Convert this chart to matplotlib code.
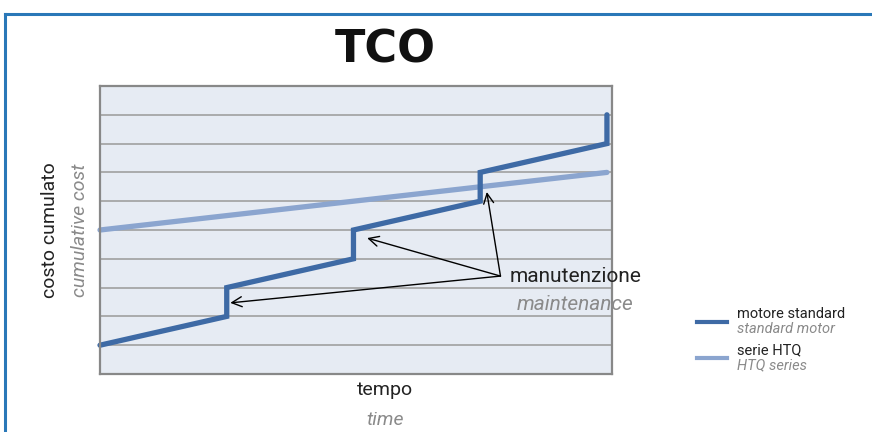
import numpy as np
import matplotlib
matplotlib.use("Agg")
import matplotlib.pyplot as plt
from matplotlib.lines import Line2D

plt.rcParams['font.family'] = ['Roboto', 'DejaVu Sans']

# data (time, cumulative cost)
std_x = [0, 2.5, 2.5, 5.0, 5.0, 7.5, 7.5, 10.0, 10.0]
std_y = [1.0, 2.0, 3.0, 4.0, 5.0, 6.0, 7.0, 8.0, 9.0]
htq_x = [0, 10.0]
htq_y = [5.0, 7.0]

# maintenance arrows: tips
tips_x = [2.57, 5.27, 7.63]
tips_y = [2.47, 4.72, 6.32]
src = (7.9, 3.4)

c_std = '#3e6aa5'
c_htq = '#8ba5cf'

fig = plt.figure(figsize=(8.72, 4.32), dpi=100)

# outer blue frame
fig.add_artist(Line2D([0.006, 1.0], [0.968, 0.968], color='#2a78b8', lw=2.2))
fig.add_artist(Line2D([0.006, 0.006], [0.0, 0.968], color='#2a78b8', lw=2.2))

ax = fig.add_axes([100/872, 58/432, 512/872, 288/432])
ax.set_facecolor('#e6ebf3')
ax.set_xlim(0, 10.1)
ax.set_ylim(0, 10)
ax.set_yticks(np.arange(1, 10))
ax.set_xticks([])
ax.tick_params(axis='y', length=0, labelleft=False)
ax.grid(axis='y', color='#a0a0a0', lw=1.2)
ax.set_axisbelow(True)
for s in ax.spines.values():
    s.set_color('#888888')
    s.set_linewidth(1.6)

ax.plot(htq_x, htq_y, color=c_htq, lw=3.8, solid_capstyle='round', clip_on=False)
ax.plot(std_x, std_y, color=c_std, lw=3.8, solid_capstyle='round',
        solid_joinstyle='miter', clip_on=False)

for tx, ty in zip(tips_x, tips_y):
    ax.annotate('', xy=(tx, ty), xytext=src,
                arrowprops=dict(arrowstyle='->', color='black', lw=1.0,
                                mutation_scale=18, shrinkA=0, shrinkB=0))

ax.text(9.38, 3.4, 'manutenzione', fontsize=15, color='#222222', va='center', ha='center')
ax.text(9.38, 2.4, 'maintenance', fontsize=15, color='#8a8a8a', style='italic',
        va='center', ha='center')

fig.text(385/872, 1 - 50/432, 'TCO', fontsize=32, fontweight='bold',
         ha='center', va='center', color='#111111',
         family=['DejaVu Sans Condensed', 'Liberation Sans Narrow', 'DejaVu Sans'])

fig.text(50/872, 1 - 230/432, 'costo cumulato', rotation=90, fontsize=14,
         ha='center', va='center', color='#222222')
fig.text(80/872, 1 - 230/432, 'cumulative cost', rotation=90, fontsize=14,
         ha='center', va='center', color='#8a8a8a', style='italic')
fig.text(385/872, 1 - 390/432, 'tempo', fontsize=14, ha='center', va='center',
         color='#222222')
fig.text(385/872, 1 - 420/432, 'time', fontsize=14, ha='center', va='center',
         color='#8a8a8a', style='italic')

# legend
legend = [('motore standard', 'standard motor', c_std, 322),
          ('serie HTQ', 'HTQ series', c_htq, 358)]
for it, en, col, yp in legend:
    fig.add_artist(Line2D([697/872, 727/872], [1 - yp/432, 1 - yp/432], color=col, lw=3))
    fig.text(737/872, 1 - (yp - 8)/432, it, fontsize=10.5, ha='left', va='center',
             color='#222222')
    fig.text(737/872, 1 - (yp + 7)/432, en, fontsize=10.5, ha='left', va='center',
             color='#8a8a8a', style='italic')

fig.savefig('out.png', dpi=100)
